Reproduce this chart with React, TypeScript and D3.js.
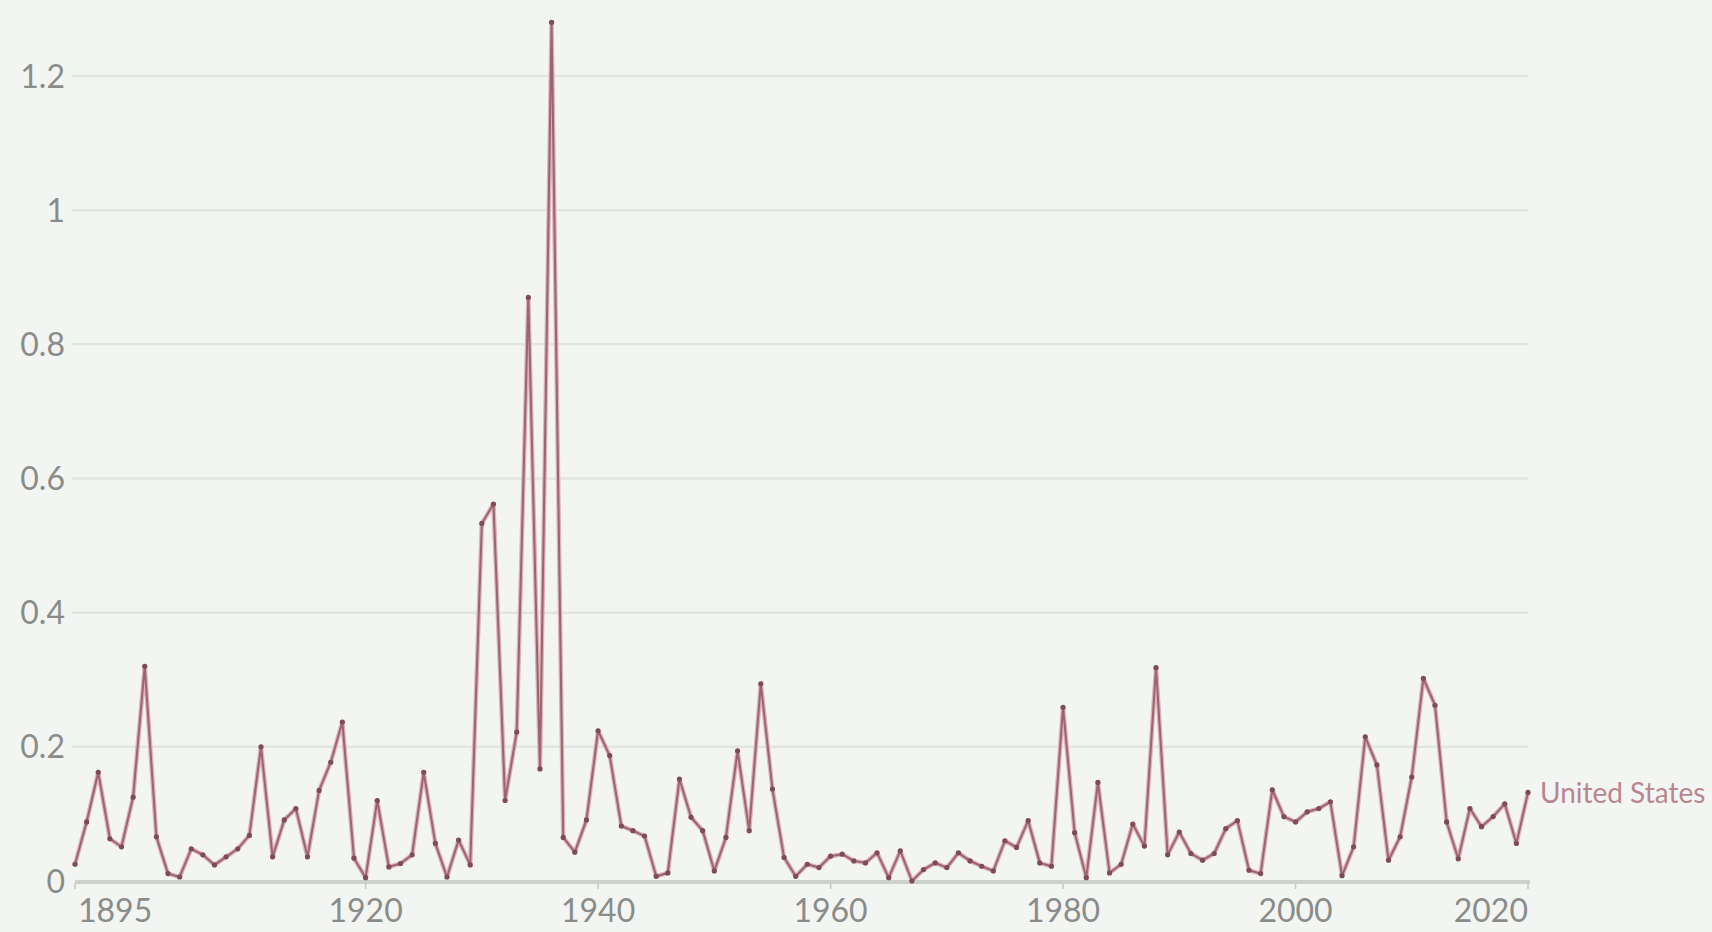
import React from 'react';
import * as d3 from 'd3';

// Years 1895..2020, one value per year
const startYear = 1895;
const endYear = 2020;

const values1895to1919 = [
  0.025, 0.088, 0.162, 0.063, 0.051, 0.125, 0.32, 0.066, 0.011, 0.006,
  0.048, 0.039, 0.024, 0.036, 0.048, 0.068, 0.2, 0.036, 0.091, 0.108,
  0.036, 0.135, 0.177, 0.237, 0.034,
];
const values1920to1944 = [
  0.005, 0.12, 0.021, 0.026, 0.039, 0.162, 0.056, 0.006, 0.061, 0.024,
  0.533, 0.562, 0.12, 0.222, 0.87, 0.167, 1.28, 0.065, 0.043, 0.091,
  0.224, 0.187, 0.082, 0.075, 0.067,
];
const values1945to1969 = [
  0.007, 0.012, 0.152, 0.095, 0.075, 0.015, 0.065, 0.194, 0.075, 0.294,
  0.137, 0.035, 0.007, 0.025, 0.02, 0.037, 0.04, 0.03, 0.027, 0.042,
  0.005, 0.045, 0.0, 0.017, 0.027,
];
const values1970to1994 = [
  0.02, 0.042, 0.03, 0.022, 0.015, 0.06, 0.05, 0.09, 0.027, 0.022,
  0.259, 0.072, 0.005, 0.147, 0.012, 0.025, 0.085, 0.052, 0.318, 0.039,
  0.073, 0.041, 0.031, 0.041, 0.078,
];
const values1995to2020 = [
  0.09, 0.016, 0.011, 0.136, 0.096, 0.088, 0.103, 0.108, 0.118, 0.008,
  0.051, 0.215, 0.173, 0.031, 0.066, 0.155, 0.302, 0.262, 0.088, 0.033,
  0.108, 0.081, 0.096, 0.115, 0.056, 0.132,
];

const seriesName = 'United States';
const yTicks = [0, 0.2, 0.4, 0.6, 0.8, 1, 1.2];
const xTicks = [1920, 1940, 1960, 1980, 2000];

const values = [
  ...values1895to1919,
  ...values1920to1944,
  ...values1945to1969,
  ...values1970to1994,
  ...values1995to2020,
];
const data = values.map((v, i) => ({ year: startYear + i, value: v }));

const W = 1712;
const H = 932;
const font = 'Lato, "Open Sans", sans-serif';
const labelY = 922;

const App: React.FC = () => {
  const x = d3.scaleLinear().domain([startYear, endYear]).range([75, 1528]);
  const y = d3.scaleLinear().domain([0, 1.2]).range([881, 76]);

  const line = d3
    .line<{ year: number; value: number }>()
    .x(d => x(d.year))
    .y(d => y(d.value));

  const last = data[data.length - 1];

  return (
    <div style={{ position: 'absolute', left: 0, top: 0, width: W, height: H }}>
      <svg width={W} height={H} style={{ display: 'block', background: '#f3f5f2' }}>
        {/* grid */}
        {yTicks.filter(t => t > 0).map(t => (
          <line
            key={t}
            x1={72}
            x2={x(endYear)}
            y1={y(t)}
            y2={y(t)}
            stroke="#e3e5e2"
            strokeWidth={2.5}
          />
        ))}
        {/* y labels */}
        {yTicks.map(t => (
          <text
            key={t}
            x={65}
            y={y(t)}
            dy="0.36em"
            textAnchor="end"
            fontFamily={font}
            fontSize={32}
            fill="#8a8c8a"
          >
            {d3.format('~g')(t)}
          </text>
        ))}
        {/* baseline */}
        <line x1={x(startYear)} x2={x(endYear) + 2} y1={y(0) + 1} y2={y(0) + 1} stroke="#cdd1cd" strokeWidth={4} />
        {[startYear, ...xTicks, endYear].map(t => (
          <line key={t} x1={x(t)} x2={x(t)} y1={y(0) + 2} y2={y(0) + 8} stroke="#c5c9c5" strokeWidth={1.5} />
        ))}
        {/* x labels */}
        <text x={x(startYear) + 3} y={labelY} textAnchor="start" fontFamily={font} fontSize={32} fill="#8a8c8a">
          {startYear}
        </text>
        {xTicks.map(t => (
          <text key={t} x={x(t)} y={labelY} textAnchor="middle" fontFamily={font} fontSize={32} fill="#8a8c8a">
            {t}
          </text>
        ))}
        <text x={x(endYear)} y={labelY} textAnchor="end" fontFamily={font} fontSize={32} fill="#8a8c8a">
          {endYear}
        </text>
        {/* series */}
        <path d={line(data) || ''} fill="none" stroke="#dcb3ba" strokeWidth={4.5} strokeLinejoin="round" />
        <path d={line(data) || ''} fill="none" stroke="#9c6470" strokeWidth={2} strokeLinejoin="round" />
        {data.map(d => (
          <circle key={d.year} cx={x(d.year)} cy={y(d.value)} r={2.6} fill="#7e4b56" />
        ))}
        <text
          x={x(last.year) + 12}
          y={y(last.value)}
          dy="0.36em"
          fontFamily={font}
          fontSize={28}
          fill="#b98690"
        >
          {seriesName}
        </text>
      </svg>
    </div>
  );
};

export default App;
